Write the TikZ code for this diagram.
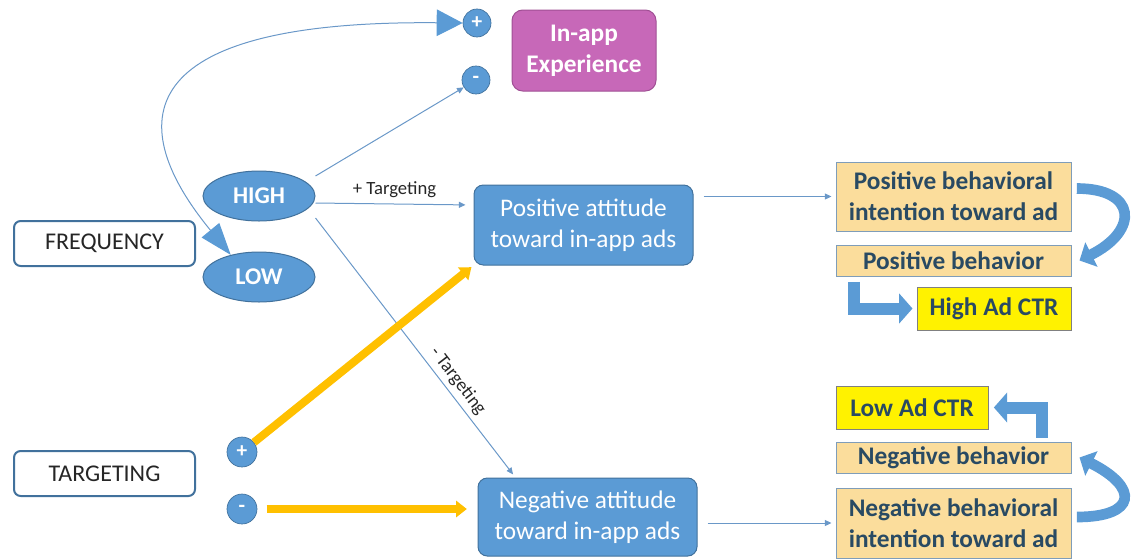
\documentclass[tikz,border=0pt]{standalone}
\usepackage{fontspec}
\setmainfont{Carlito}
\usetikzlibrary{arrows.meta,calc,shapes.geometric}
\definecolor{obl}{HTML}{5B9BD5}
\definecolor{obd}{HTML}{41719C}
\definecolor{mag}{HTML}{C768B8}
\definecolor{magd}{HTML}{A04F94}
\definecolor{peach}{HTML}{FBDD9C}
\definecolor{slate}{HTML}{294A63}
\definecolor{gold}{HTML}{FFC000}
\definecolor{lnk}{HTML}{6A98C8}
\definecolor{pbord}{HTML}{7F9DB9}
\definecolor{txt}{HTML}{262626}
\begin{document}
\begin{tikzpicture}[x=0.75pt,y=-0.75pt,
  catbox/.style={draw=obd, line width=1.5pt, rounded corners=5pt, fill=white, minimum width=135.75pt, minimum height=33.75pt, inner sep=0pt, text=txt, font=\fontsize{18}{21}\selectfont},
  freqell/.style={ellipse, draw=obd, fill=obl, line width=0.75pt, minimum width=84pt, minimum height=37.5pt, inner sep=0pt, text=white, font=\bfseries\fontsize{18}{21}\selectfont},
  sign/.style={circle, draw=obd, fill=obl, line width=0.5pt, minimum size=21pt, inner sep=0pt, text=white, font=\bfseries\fontsize{16}{18}\selectfont},
  inapp/.style={draw=magd, fill=mag, rounded corners=8pt, line width=0.75pt, minimum width=108pt, minimum height=60.75pt, inner sep=0pt, text=white, align=center, font=\bfseries\fontsize{19}{23}\selectfont},
  attbox/.style={draw=obd, fill=obl, rounded corners=7pt, line width=0.75pt, minimum width=164.25pt, inner sep=0pt, text=white, align=center, font=\fontsize{19}{23}\selectfont},
  outbox/.style={draw=pbord, fill=peach, line width=0.75pt, minimum width=176.25pt, inner sep=0pt, text=slate, align=center, font=\bfseries\fontsize{19}{23}\selectfont},
  ctrbox/.style={draw=gray, fill=yellow, line width=0.75pt, minimum height=32.25pt, inner sep=0pt, text=slate, font=\bfseries\fontsize{19}{23}\selectfont},
  conn/.style={draw=lnk, line width=0.75pt, -{Triangle[length=5pt,width=4.5pt]}},
  lbl/.style={text=txt, font=\fontsize{14}{16}\selectfont},
  tarrow/.style={draw=gold, line width=6pt, -{Triangle[length=8pt,width=12pt]}},
  blockarr/.style={draw=obl, line width=8pt, -{Triangle[length=10pt,width=20pt]}},
  elbow/.style={draw=obl, line width=9pt, line join=miter, -{Triangle[length=10pt,width=22pt]}}
]
\useasboundingbox (0,0) rectangle (1134,558);

\node[catbox] (freq) at (104.5,243.5) {FREQUENCY};
\node[catbox] (targ) at (104.5,473.5) {TARGETING};
\node[freqell] (high) at (259,196) {HIGH};
\node[freqell] (low) at (259,277) {LOW};
\node[sign] (p1) at (477,23) {+};
\node[sign] (m1) at (476,80) {-};
\node[sign, minimum size=22.5pt] (p2) at (242,452) {+};
\node[sign, minimum size=22.5pt] (m2) at (242,509) {-};
\node[inapp] (inapp) at (584,50.5) {In-app\\Experience};
\node[attbox, minimum height=60pt] (posatt) at (583.5,225) {Positive attitude\\toward in-app ads};
\node[attbox, minimum height=58.5pt] (negatt) at (587.5,517) {Negative attitude\\toward in-app ads};
\node[outbox, minimum height=51.75pt] (posint) at (953.5,196.5) {Positive behavioral\\intention toward ad};
\node[outbox, minimum height=23.25pt] (posbeh) at (953.5,260.5) {Positive behavior};
\node[ctrbox, minimum width=115.5pt] (highctr) at (994,308.5) {High Ad CTR};
\node[ctrbox, minimum width=114pt] (lowctr) at (912,407.5) {Low Ad CTR};
\node[outbox, minimum height=23.25pt] (negbeh) at (953.5,457.5) {Negative behavior};
\node[outbox, minimum height=52.5pt] (negint) at (953.5,523) {Negative behavioral\\intention toward ad};

% frequency connectors
\draw[conn] ([yshift=15pt]high.east) -- (m1);
\draw[conn, shorten >=6pt] ([yshift=-5.25pt]high.east) -- node[lbl, above=1pt] {+ Targeting} ([yshift=15pt]posatt.west);
\draw[conn, shorten >=3pt] ([yshift=-16.5pt]high.east) -- node[lbl, sloped, above, pos=0.66] {- Targeting} ([xshift=-54pt]negatt.north);
\draw[draw=lnk, line width=0.75pt, {Triangle[length=24pt,width=17pt,color=obl]}-{Triangle[length=19.5pt,width=20pt,color=obl]}] (low.142) .. controls +(-115,-140) and +(-320,-3) .. (p1.west);

% targeting connectors
\draw[tarrow, shorten >=2pt] (p2) -- (posatt.south west);
\draw[tarrow, shorten <=7pt, shorten >=8pt] (m2) -- (m2 -| negatt.west);

% attitude to intention
\draw[conn, shorten <=7.5pt, shorten >=3pt] (posatt.east |- posint.west) -- (posint.west);
\draw[conn, shorten <=7.5pt, shorten >=3pt] (negatt.east |- negint.west) -- (negint.west);

% block arrows
\draw[blockarr] ([xshift=4pt,yshift=6pt]posint.east) .. controls +(60,0) and +(60,-30) .. ([xshift=6pt]posbeh.east);
\draw[blockarr] ([xshift=4pt,yshift=4.5pt]negint.east) .. controls +(60,0) and +(60,30) .. ([xshift=6pt]negbeh.east);
\draw[elbow, shorten >=3pt] ([xshift=14pt,yshift=-4pt]posbeh.south west) |- (highctr.west);
\draw[elbow, shorten >=4pt] ([xshift=66pt,yshift=3pt]negbeh.north) |- (lowctr.east);
\end{tikzpicture}
\end{document}
